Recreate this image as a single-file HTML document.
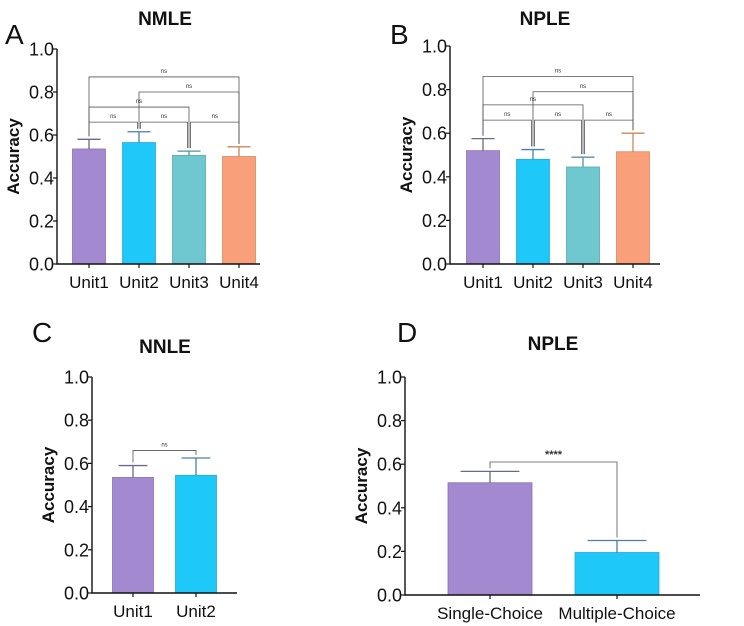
<!DOCTYPE html>
<html><head><meta charset="utf-8"><style>
body{margin:0;background:#fff}
svg{display:block;font-family:"Liberation Sans",Arial,sans-serif}
</style></head><body>
<svg id="chart" width="744" height="626" viewBox="0 0 744 626"></svg>
<script>
// Panel A: NMLE
const catsA = ["Unit1","Unit2","Unit3","Unit4"];
const meansA = [0.535,0.565,0.505,0.50];
const errsA = [0.045,0.05,0.02,0.045];
const sigA = [[0,3,0.87],[1,3,0.80],[0,2,0.73],[0,1,0.66],[1,2,0.66],[2,3,0.66]];
// Panel B: NPLE
const catsB = ["Unit1","Unit2","Unit3","Unit4"];
const meansB = [0.52,0.48,0.445,0.515];
const errsB = [0.055,0.045,0.045,0.085];
const sigB = [[0,3,0.86],[1,3,0.79],[0,2,0.73],[0,1,0.66],[1,2,0.66],[2,3,0.66]];
// Panel C: NNLE
const catsC = ["Unit1","Unit2"];
const meansC = [0.535,0.545];
const errsC = [0.055,0.08];
const sigC = [[0,1,0.66]];
// Panel D: NPLE choice
const catsD = ["Single-Choice","Multiple-Choice"];
const meansD = [0.515,0.195];
const errsD = [0.052,0.055];
const sigD = [[0,1,0.61]];
const ticks = [0,0.2,0.4,0.6,0.8,1.0];

const NS="http://www.w3.org/2000/svg";
const svg=document.getElementById('chart');
const fills=["#a38ad0","#1ec8f8","#6fc8d0","#f9a07a"];
const strokes=["#8a72b8","#2aa8d8","#5aa8b0","#d88a62"];
const errc=["#6a6a88","#4a7fa8","#5a8fa0","#c8885e"];
function mk(tag,attrs,parent){const e=document.createElementNS(NS,tag);for(const k in attrs)e.setAttribute(k,attrs[k]);(parent||svg).appendChild(e);return e;}

function panel(p){
  const g=mk('g',{});
  
  
  const y=v=>p.y0-(p.y0-p.y1)*v;
  const x=i=>p.xs[i];
  const L=mk('text',{x:p.lx,y:p.ly,'font-size':28,fill:'#111'},g);L.textContent=p.letter;
  
  const T=mk('text',{x:p.tx,y:p.ty,'font-size':19,'font-weight':'bold','text-anchor':'middle',fill:'#111'},g);T.textContent=p.title;
  
  const Y=mk('text',{transform:`translate(${p.ax-38},${(p.y0+p.y1)/2}) rotate(-90)`,'font-size':17,'font-weight':'bold','text-anchor':'middle',fill:'#111'},g);Y.textContent='Accuracy';
  
  p.means.forEach((m,i)=>{
    const cx=x(i);
    const r=mk('rect',{x:cx-p.bw/2,y:y(m),width:p.bw,height:y(0)-y(m),fill:fills[i],stroke:strokes[i],'stroke-width':0.8},g);
    
    
    const e=mk('path',{d:`M${cx},${y(m)}V${y(m+p.errs[i])}M${cx-p.bw*0.35},${y(m+p.errs[i])}H${cx+p.bw*0.35}`,stroke:errc[i],'stroke-width':1.3,fill:'none'},g);
    
    
  });
  const ax=mk('path',{d:`M${p.ax},${y(1)}V${y(0)}H${p.axEnd}`,stroke:'#111','stroke-width':1.4,fill:'none'},g);
  
  ticks.forEach(t=>{
    mk('line',{x1:p.ax-4,x2:p.ax,y1:y(t),y2:y(t),stroke:'#111','stroke-width':1.2},g);
    const tl=mk('text',{x:p.ax-3,y:y(t)+6.5,'font-size':18,'text-anchor':'end',fill:'#111'},g);tl.textContent=t.toFixed(1);
    
  });
  p.cats.forEach((c,i)=>{
    mk('line',{x1:x(i),x2:x(i),y1:y(0),y2:y(0)+4,stroke:'#111','stroke-width':1.2},g);
    const xl=mk('text',{x:x(i),y:y(0)+24,'font-size':p.xfs||17,'text-anchor':'middle',fill:'#111'},g);xl.textContent=c;
    
  });
  p.sig.forEach(s=>{
    const [a,b,lv]=s;
    const adj=p.sig.length>1&&lv<0.7;
    const xa=x(a)+(adj&&a>0?1.5:0),xb=x(b)-(adj&&b<p.cats.length-1?1.5:0);
    const ea=y(p.means[a]+p.errs[a])-3,eb=y(p.means[b]+p.errs[b])-3;
    const br=mk('path',{d:`M${xa},${ea}V${y(lv)}H${xb}V${eb}`,stroke:'#555','stroke-width':0.8,fill:'none'},g);
    
    const st=mk('text',{x:(xa+xb)/2,y:y(lv)-4,'font-size':p.sfs||6,'font-weight':p.sfs?'bold':'normal','text-anchor':'middle',fill:'#333'},g);
    st.textContent=p.star||'ns';
    
  });
}
panel({name:'panel-a-nmle',letter:'A',lx:5,ly:44,title:'NMLE',tx:165,ty:25,ax:57,axEnd:260,y0:264,y1:49,xs:[89,139,189,239],bw:33,cats:catsA,means:meansA,errs:errsA,sig:sigA});
panel({name:'panel-b-nple',letter:'B',lx:390,ly:44,title:'NPLE',tx:545,ty:25,ax:450,axEnd:660,y0:264,y1:46,xs:[483,533,583,633],bw:33,cats:catsB,means:meansB,errs:errsB,sig:sigB});
panel({name:'panel-c-nnle',letter:'C',lx:32,ly:342,title:'NNLE',tx:165,ty:353,ax:92,axEnd:237,y0:593,y1:377,xs:[133,196],bw:41,cats:catsC,means:meansC,errs:errsC,sig:sigC});
panel({name:'panel-d-nple',letter:'D',lx:397,ly:342,title:'NPLE',tx:553,ty:350,ax:405,axEnd:700,y0:595,y1:377,xs:[490,617],bw:84,cats:catsD,means:meansD,errs:errsD,sig:sigD,star:'****',sfs:11});
</script>
</body></html>
